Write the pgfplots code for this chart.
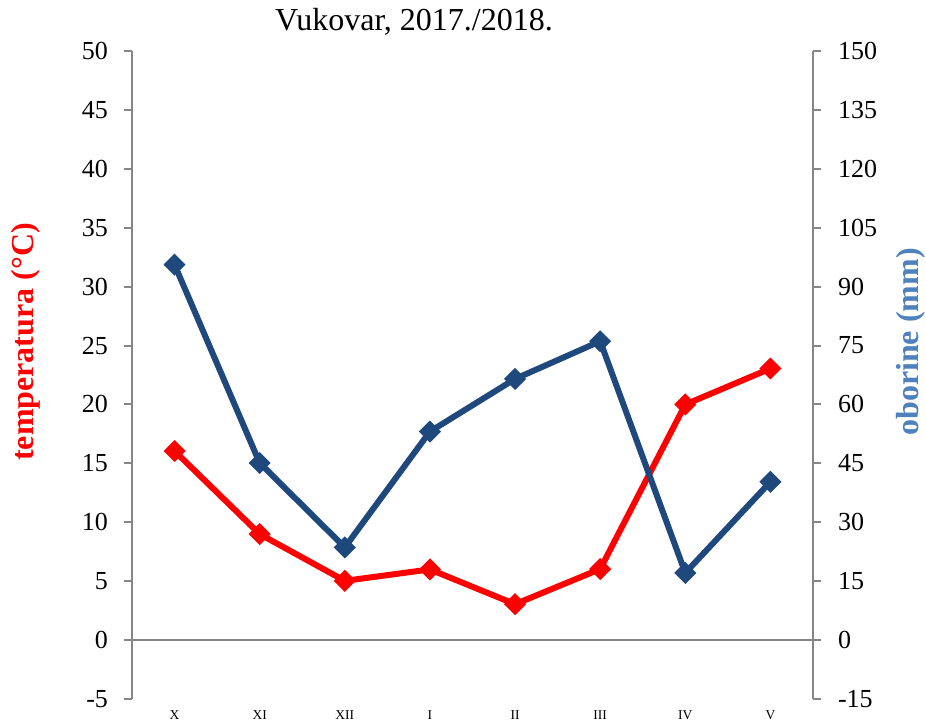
\documentclass[border=0pt]{standalone}
\usepackage{pgfplots}
\pgfplotsset{compat=1.18}
\usepackage{fontspec}
\setmainfont{Liberation Serif}
\definecolor{tred}{HTML}{FF0000}
\definecolor{pblue}{HTML}{1F497D}
\definecolor{lblue}{HTML}{4F81BD}
\definecolor{axgray}{HTML}{868686}

\pgfplotsset{
 common/.style={
  scale only axis, width=340.5pt, height=324pt,
  at={(0,0)}, anchor=south west,
  xmin=-0.5, xmax=7.5,
  axis line style={axgray, line width=1pt},
  every tick/.style={axgray, line width=1pt},
  major tick length=4pt,
  tick align=outside,
  /pgf/number format/assume math mode=true,
  clip=false,
 }
}

\begin{document}
\begin{tikzpicture}
\useasboundingbox (-66pt,-10.5pt) rectangle (397pt,349.5pt);
\begin{axis}[common,
  axis y line*=left,
  axis x line*=bottom,
  x axis line style={draw=none},
  xtick={0,...,7},
  xticklabels={X,XI,XII,I,II,III,IV,V},
  xtick style={draw=none},
  xticklabel style={font=\fontsize{6.75}{8}\selectfont, yshift=1.5pt},
  yticklabel style={font=\fontsize{13}{15}\selectfont, xshift=-4.5pt},
  ymin=-5, ymax=50, ytick={-5,0,...,50},
]
\addplot[axgray, line width=1pt, forget plot] coordinates {(-0.5,0) (7.5,0)};
\addplot[tred, line width=3pt, mark=square*, mark options={rotate=45, solid}, mark size=2.4pt]
 coordinates {(0,16.05) (1,9.0) (2,5.03) (3,6.0) (4,3.05) (5,6.03) (6,20.0) (7,23.05)};
\end{axis}
\begin{axis}[common,
  axis y line*=right,
  axis x line=none,
  yticklabel style={font=\fontsize{13}{15}\selectfont, xshift=5pt},
  ymin=-15, ymax=150, ytick={-15,0,...,150},
]
\addplot[pblue, line width=3pt, mark=square*, mark options={rotate=45, solid}, mark size=2.4pt]
 coordinates {(0,95.6) (1,45.1) (2,23.6) (3,53.1) (4,66.5) (5,76.1) (6,17.1) (7,40.3)};
\end{axis}
\node[font=\fontsize{16}{19}\selectfont] at (141pt,338.5pt) {Vukovar, 2017./2018.};
\node[rotate=90, text=tred, font=\bfseries\fontsize{16}{19}\selectfont] at (-53pt,178.5pt) {temperatura (°C)};
\node[rotate=90, text=lblue, font=\bfseries\fontsize{16}{19}\selectfont] at (389.5pt,178.5pt) {oborine (mm)};
\end{tikzpicture}
\end{document}
